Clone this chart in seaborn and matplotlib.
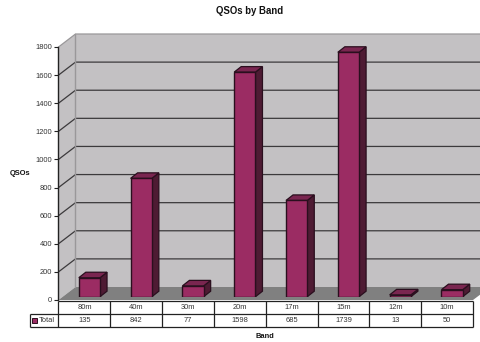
import matplotlib
matplotlib.use("Agg")
import matplotlib.pyplot as plt
from matplotlib.patches import Polygon, Rectangle
import pandas as pd
import seaborn as sns

# QSO counts per amateur radio band
bands = ["80m", "40m", "30m", "20m", "17m", "15m", "12m", "10m"]
totals = [135, 842, 77, 1598, 685, 1739, 13, 50]
y_ticks = [0, 200, 400, 600, 800, 1000, 1200, 1400, 1600, 1800]

W, H = 481, 342
FRONT_FACE = "#9B2C63"
SIDE_FACE = "#4E1B33"
TOP_FACE = "#7A2650"
EDGE = "#2A0F1E"
WALL = "#C3C1C3"
FLOOR = "#808080"
GRID = "#3C3A3C"
RIM = "#9A989A"
TEXT = "#333333"

sns.set_theme(style="white")
plt.rcParams["font.family"] = ["Liberation Sans", "DejaVu Sans"]

fig = plt.figure(figsize=(W / 100, H / 100), dpi=100, facecolor="white")


def axes_px(left, top, right, bottom, **kw):
    """Axes placed by its pixel box, measured from the top-left corner."""
    return fig.add_axes([left / W, 1 - bottom / H, (right - left) / W, (bottom - top) / H], **kw)


# Full-figure canvas for the walls, floor and data table, in pixel units
bg = axes_px(0, 0, W, H)
bg.set_xlim(0, W)
bg.set_ylim(H, 0)
bg.axis("off")

AX_L, AX_R, AX_B, AX_T = 58.5, 473.0, 300.0, 47.0
DX, DY = 17.0, 13.0
px_per_unit = (AX_B - AX_T) / 1800

bg.add_patch(Polygon([(AX_L, AX_T), (AX_L + DX, AX_T - DY), (W, AX_T - DY), (W, AX_B - DY),
                      (AX_L + DX, AX_B - DY), (AX_L, AX_B)],
                     closed=True, fc=WALL, ec="none"))
bg.add_patch(Polygon([(AX_L, AX_B), (AX_L + DX, AX_B - DY), (W, AX_B - DY), (W, 294), (AX_R, AX_B)],
                     closed=True, fc=FLOOR, ec="none"))

# Gridlines run across the back wall and fold down the side wall
for t in y_ticks[1:]:
    y = AX_B - t * px_per_unit
    is_top = t == y_ticks[-1]
    bg.plot([AX_L, AX_L + DX, W], [y, y - DY, y - DY], lw=0.9,
            color=RIM if is_top else GRID, solid_joinstyle="miter")
bg.plot([AX_L + DX, AX_L + DX], [AX_T - DY, AX_B - DY], lw=1.0, color=RIM)

# Value axis along the front edge of the side wall
ay = axes_px(AX_L, AX_T, AX_R, AX_B, facecolor="none")
ay.set_xlim(0, 1)
ay.set_ylim(0, 1800)
ay.set_yticks(y_ticks)
ay.set_xticks([])
ay.tick_params(axis="y", length=3.0, width=0.8, color="#222222", labelsize=5.4, labelcolor=TEXT, pad=1.8, left=True)
sns.despine(ax=ay, top=True, right=True, bottom=True)
ay.spines["left"].set_color("#222222")
ay.spines["left"].set_linewidth(1.0)
ay.set_ylabel("")

# Front faces of the columns sit slightly inside the 3D box
ax = axes_px(AX_L + 5, 43.7, AX_R + 5, 296.7, facecolor="none")
data = pd.DataFrame({"Band": bands, "Total": totals})
sns.barplot(data=data, x="Band", y="Total", order=bands, color=FRONT_FACE, saturation=1,
            width=0.41, edgecolor=EDGE, linewidth=1.0, ax=ax, zorder=3)
ax.set_xlim(-0.5, 7.5)
ax.set_ylim(0, 1800)
ax.axis("off")

# Extrude each column using its own bar geometry
depth_x = 7.0 / ((AX_R - AX_L) / 8)
depth_y = 5.5 / px_per_unit
for bar in list(ax.patches):
    x0, x1 = bar.get_x(), bar.get_x() + bar.get_width()
    h = bar.get_height()
    ax.add_patch(Polygon([(x1, 0), (x1 + depth_x, depth_y), (x1 + depth_x, h + depth_y), (x1, h)],
                         closed=True, fc=SIDE_FACE, ec=EDGE, lw=0.9, zorder=2.5))
    ax.add_patch(Polygon([(x0, h), (x0 + depth_x, h + depth_y), (x1 + depth_x, h + depth_y), (x1, h)],
                         closed=True, fc=TOP_FACE, ec=EDGE, lw=0.9, zorder=2.5))

# Data table under the plot
ROW1, ROW2, ROW3, LEFT = 300.5, 314.0, 327.3, 30.5
col_w = (AX_R - AX_L) / len(bands)
tbl = dict(color="#222222", lw=0.9, solid_capstyle="butt")
bg.plot([AX_L, AX_R], [ROW1, ROW1], **tbl)
bg.plot([LEFT, AX_R], [ROW2, ROW2], **tbl)
bg.plot([LEFT, AX_R], [ROW3, ROW3], **tbl)
bg.plot([LEFT, LEFT], [ROW2, ROW3], **tbl)
for i in range(len(bands) + 1):
    bg.plot([AX_L + i * col_w] * 2, [ROW1, ROW3], **tbl)
for i, (band, total) in enumerate(zip(bands, totals)):
    cx = AX_L + (i + 0.5) * col_w
    bg.text(cx, 307.5, band, ha="center", va="center", fontsize=5.4, color=TEXT)
    bg.text(cx, 320.6, str(total), ha="center", va="center", fontsize=5.4, color=TEXT)
bg.add_patch(Rectangle((32.3, 318.2), 4.4, 4.6, fc=FRONT_FACE, ec=EDGE, lw=0.7))
bg.text(39, 320.8, "Total", ha="left", va="center", fontsize=5.4, color=TEXT)

# Titles
bg.text(249.5, 10.5, "QSOs by Band", ha="center", va="center", fontsize=6.9, fontweight="bold", color="#111111")
bg.text(20.5, 173.5, "QSOs", ha="center", va="center", fontsize=5.4, fontweight="bold", color="#111111")
bg.text(265, 336.5, "Band", ha="center", va="center", fontsize=5.4, fontweight="bold", color="#111111")

fig.savefig("out.png", dpi=100)
